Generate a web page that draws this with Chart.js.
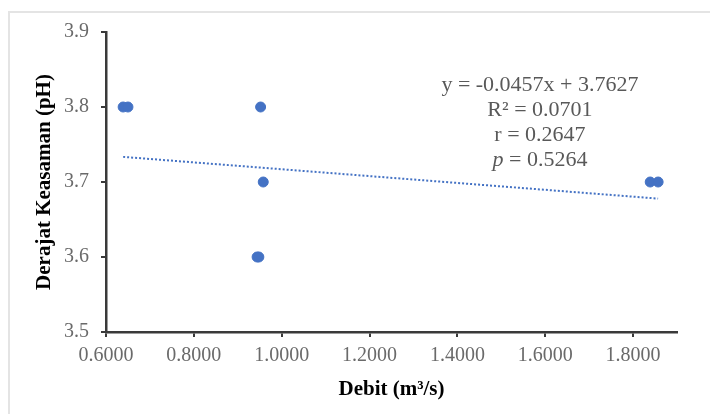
<!DOCTYPE html>
<html>
<head>
<meta charset="utf-8">
<script src="https://cdn.jsdelivr.net/npm/chart.js@4.4.1/dist/chart.umd.min.js"></script>
<style>
  html, body { margin: 0; padding: 0; background: #fff; }
  #frame { position: absolute; left: 8px; top: 11px; width: 710px; height: 414px;
           border-left: 2px solid #e4e4e4; border-top: 2px solid #e4e4e4; }
  #wrap { position: absolute; left: 0; top: 0; width: 710px; height: 414px; }
</style>
</head>
<body>
<div id="frame"></div>
<div id="wrap"><canvas id="chart" width="710" height="414"></canvas></div>
<script>
// ---------- data ----------
const debit = [0.639, 0.650, 0.952, 0.958, 0.944, 0.948, 1.839, 1.857];
const ph    = [3.8,   3.8,   3.8,   3.7,   3.6,   3.6,   3.7,   3.7];
const xTicks = [0.6, 0.8, 1.0, 1.2, 1.4, 1.6, 1.8];
const yTicks = [3.5, 3.6, 3.7, 3.8, 3.9];
const slope = -0.0457;
const intercept = 3.7627;
const statLines = ["y = -0.0457x + 3.7627", "R² = 0.0701", "r = 0.2647", "p = 0.5264"];

const points = debit.map((x, i) => ({ x: x, y: ph[i] }));
const xMin = Math.min(...debit);
const xMax = Math.max(...debit);
const trend = [xMin, xMax].map(x => ({ x: x, y: slope * x + intercept }));

const serif = "'Liberation Serif', 'Times New Roman', serif";
const blue = "#4472C4";

// ---------- annotation text ----------
const statsPlugin = {
  id: "stats",
  afterDraw(chart) {
    const ctx = chart.ctx;
    const a = chart.chartArea;
    const cx = a.left + (a.right - a.left) * 0.76;
    let y = a.top + 53;
    ctx.save();
    ctx.fillStyle = "#595959";
    ctx.textBaseline = "middle";
    statLines.forEach((line, i) => {
      if (i === 3) {
        // italic p
        ctx.font = "italic 22px " + serif;
        const pW = ctx.measureText("p").width;
        ctx.font = "22px " + serif;
        const rest = line.slice(1);
        const rW = ctx.measureText(rest).width;
        const start = cx - (pW + rW) / 2;
        ctx.textAlign = "left";
        ctx.font = "italic 22px " + serif;
        ctx.fillText("p", start, y);
        ctx.font = "22px " + serif;
        ctx.fillText(rest, start + pW, y);
      } else {
        ctx.font = "22px " + serif;
        ctx.textAlign = "center";
        ctx.fillText(line, cx, y);
      }
      y += 25;
    });
    ctx.restore();
  }
};

new Chart(document.getElementById("chart"), {
  type: "scatter",
  data: {
    datasets: [
      {
        data: points,
        backgroundColor: blue,
        borderColor: blue,
        pointRadius: 5,
        pointHoverRadius: 5
      },
      {
        type: "line",
        data: trend,
        borderColor: blue,
        borderWidth: 2,
        borderDash: [2, 2],
        pointRadius: 0,
        fill: false
      }
    ]
  },
  options: {
    responsive: false,
    animation: false,
    layout: { padding: { left: 0, right: 33, top: 32, bottom: 0 } },
    plugins: { legend: { display: false }, tooltip: { enabled: false } },
    scales: {
      x: {
        type: "linear",
        min: 0.6,
        max: 1.9,
        afterBuildTicks: s => { s.ticks = xTicks.map(v => ({ value: v })); },
        afterFit: s => { s.height = 82; },
        border: { color: "#3a3a3a", width: 2.5 },
        grid: { drawOnChartArea: false, drawTicks: true, tickLength: 5, color: "#3a3a3a", lineWidth: 2 },
        ticks: {
          color: "#6a6a6a",
          font: { family: serif, size: 20 },
          padding: 7,
          callback: v => Number(v).toFixed(4)
        },
        title: {
          display: true,
          text: "Debit (m³/s)",
          color: "#000",
          font: { family: serif, size: 21, weight: "bold" },
          padding: { top: 0, bottom: 12 }
        }
      },
      y: {
        min: 3.5,
        max: 3.9,
        afterBuildTicks: s => { s.ticks = yTicks.map(v => ({ value: v })); },
        afterFit: s => { s.width = 106; },
        border: { color: "#3a3a3a", width: 2.5 },
        grid: { drawOnChartArea: false, drawTicks: true, tickLength: 5, color: "#3a3a3a", lineWidth: 2 },
        ticks: {
          color: "#6a6a6a",
          font: { family: serif, size: 20 },
          padding: 12,
          callback: v => Number(v).toFixed(1)
        },
        title: {
          display: true,
          text: "Derajat Keasaman (pH)",
          color: "#000",
          font: { family: serif, size: 21, weight: "bold" },
          padding: { top: 32, bottom: 0 }
        }
      }
    }
  },
  plugins: [statsPlugin]
});
</script>
</body>
</html>
